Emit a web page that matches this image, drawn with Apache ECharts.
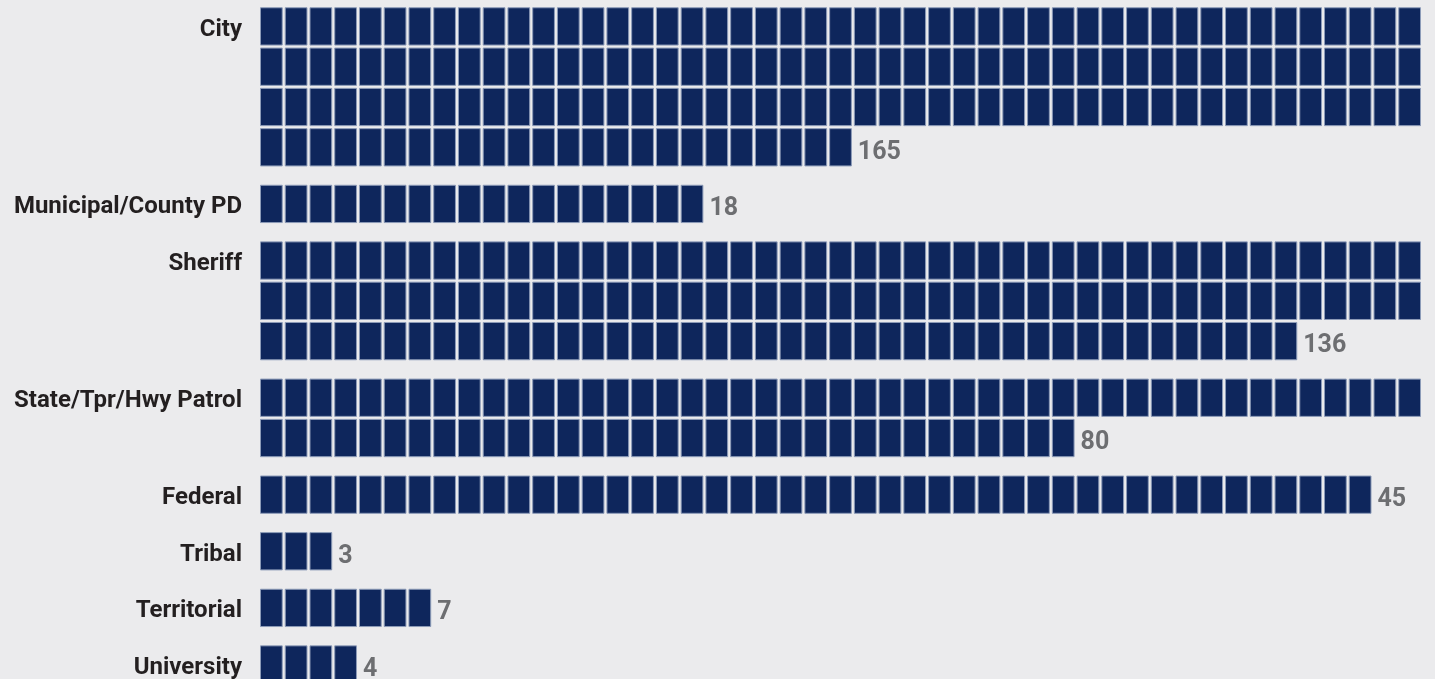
<!DOCTYPE html>
<html>
<head>
<meta charset="utf-8">
<script src="https://cdn.jsdelivr.net/npm/echarts@6/dist/echarts.min.js"></script>
<style>
html,body{margin:0;padding:0;background:#ebebed;}
#chart{width:1435px;height:679px;}
</style>
</head>
<body>
<div id="chart"></div>
<script>
const categories = ['City', 'Municipal/County PD', 'Sheriff', 'State/Tpr/Hwy Patrol', 'Federal', 'Tribal', 'Territorial', 'University'];
const counts = [165, 18, 136, 80, 45, 3, 7, 4];
const perRow = 47;

// layout in row units
const topOffset = 0.18;
const groupGap = 0.405;
const yMax = 16.85;

const blocks = [];
const labels = [];
let rowsBefore = 0;
counts.forEach(function (c, g) {
  const start = topOffset + rowsBefore + g * groupGap;
  for (let k = 0; k < c; k++) {
    blocks.push([k % perRow, start + Math.floor(k / perRow)]);
  }
  const lastRow = Math.floor((c - 1) / perRow);
  const lastCols = c - lastRow * perRow;
  labels.push([lastCols, start + lastRow, c, categories[g], start]);
  rowsBefore += lastRow + 1;
});

const chart = echarts.init(document.getElementById('chart'));
chart.setOption({
  backgroundColor: '#ebebed',
  animation: false,
  grid: { left: 260, right: 12, top: 0, bottom: 0 },
  xAxis: { type: 'value', min: 0, max: perRow, show: false },
  yAxis: { type: 'value', min: 0, max: yMax, inverse: true, show: false },
  series: [
    {
      type: 'custom',
      data: blocks,
      renderItem: function (params, api) {
        const x = api.value(0), y = api.value(1);
        const p0 = api.coord([x, y]);
        const p1 = api.coord([x + 1, y + 1]);
        return {
          type: 'rect',
          shape: { x: p0[0] + 0.5, y: p0[1] + 0.5, width: p1[0] - p0[0] - 3, height: p1[1] - p0[1] - 3 },
          style: { fill: '#0e265c', stroke: '#8c9bb8', lineWidth: 1 }
        };
      }
    },
    {
      type: 'custom',
      data: labels,
      renderItem: function (params, api) {
        const lc = api.value(0), ly = api.value(1), v = api.value(2), fy = api.value(4);
        const name = labels[params.dataIndex][3];
        const pv = api.coord([lc, ly + 0.5 + 0.1]);
        const pc = api.coord([0, fy + 0.5 + 0.06]);
        return {
          type: 'group',
          children: [
            {
              type: 'text',
              style: {
                x: pc[0] - 18, y: pc[1], text: name, align: 'right', verticalAlign: 'middle',
                fill: '#231f20', font: 'bold 24px Roboto'
              }
            },
            {
              type: 'text',
              style: {
                x: pv[0] + 4, y: pv[1], text: String(v), align: 'left', verticalAlign: 'middle',
                fill: '#6d6e71', font: 'bold 25px Roboto'
              }
            }
          ]
        };
      }
    }
  ]
});
</script>
</body>
</html>
